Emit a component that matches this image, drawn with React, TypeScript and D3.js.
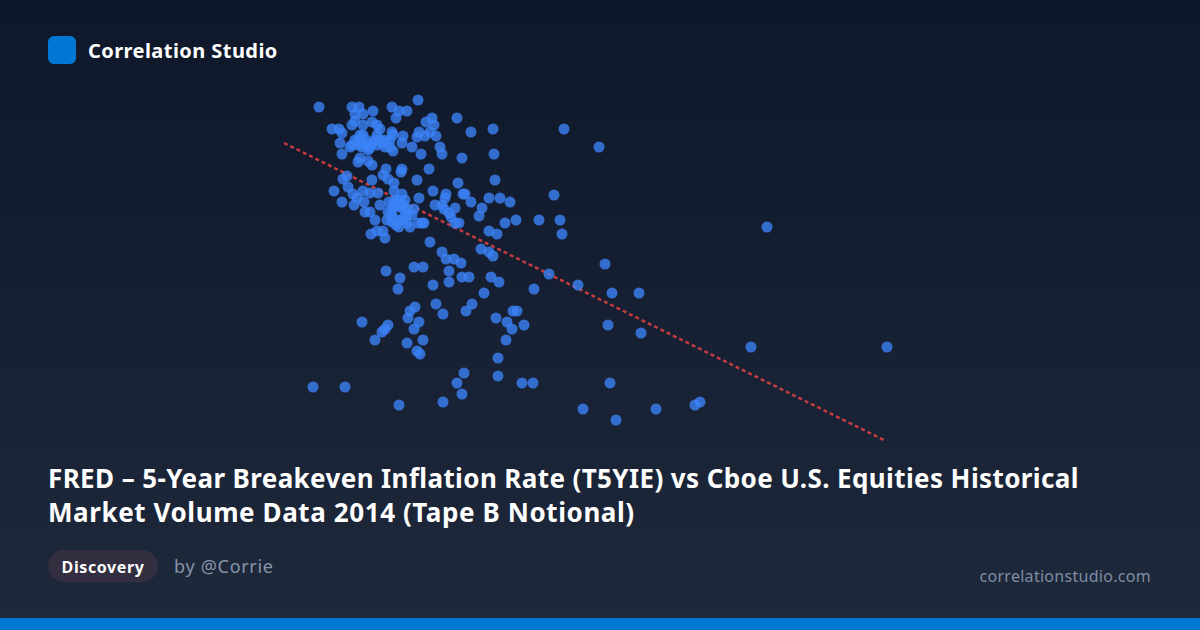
import React from "react";
import * as d3 from "d3";

// 5-year breakeven, basis points
const breakevenBps = [
  139,172,179,212,238,219,227,216,175,183,193,252,246,254,277,291,313,175,172,183,192,197,200,152,159,162,160,162,170,175,183,197,
  182,178,188,188,195,197,202,212,213,223,222,210,213,232,241,260,262,282,314,237,239,245,250,256,180,178,188,192,206,222,221,249,
  167,163,168,154,162,173,177,174,183,190,198,192,184,200,185,190,195,191,197,203,205,203,208,214,237,278,315,214,222,239,253,266,265,283,285,291,309,320,330,255,262,264,275,269,271,275,279,302,299,325,336,309,317,301,309,313,250,262,266,274,281,269,282,289,311,206,234,243,220,
  217,220,223,227,234,209,212,212,207,212,218,219,227,230,227,238,244,242,
  384,419,374,359,380,382,587,425,369,398,432,459,354,428,461,571,707,344,333,337,316,327,332,326,318,318,342,353,430,403,436,476,515,520,133,165,219,263,282,277,284,240,237,227,243,195,202,205,208,182,228,230,235,239,234,263,256,286,292,304,319,253,218,269,
  178,182,186,190,192,200,205,180,172,205,210,
  214,218,221,216,224,225,213,224,216,222,232,208,
];
// Tape B notional, USD bn
const tapeBNotional = [
  33.3,33.3,33.3,33.3,34.0,32.9,32.9,32.2,32.6,32.6,32.9,32.2,31.8,31.5,32.2,30.8,31.1,31.9,31.5,31.5,31.8,31.5,31.1,31.1,31.1,30.7,29.7,28.6,29.3,30.0,30.5,30.5,
  29.7,29.5,29.5,29.0,30.0,29.5,29.7,30.8,30.5,30.4,29.7,29.3,28.9,29.3,28.6,29.3,28.6,28.2,28.6,30.3,30.8,30.4,30.8,30.4,28.2,27.8,27.9,27.5,27.1,27.1,26.8,27.1,
  26.4,26.1,25.3,24.9,23.8,24.6,24.2,23.5,24.9,24.7,24.7,26.0,23.8,23.5,22.8,22.8,22.0,20.6,20.9,20.9,20.2,26.5,26.1,25.7,26.0,25.7,26.0,24.9,24.6,24.2,24.9,24.6,24.2,24.6,24.6,23.8,24.2,24.2,23.8,23.5,23.5,23.1,23.2,22.7,22.3,21.7,21.7,23.2,22.4,21.7,22.0,20.9,20.6,19.1,18.8,18.4,19.8,18.8,18.1,18.1,17.7,16.9,16.3,16.3,16.3,16.9,17.3,17.3,16.2,
  24.0,23.8,23.5,23.1,23.1,23.8,22.8,22.3,22.0,21.8,22.0,21.3,21.7,21.3,22.5,21.7,21.7,21.7,
  31.1,29.3,24.5,22.0,22.0,20.6,21.3,17.6,16.6,15.5,14.7,14.7,15.1,11.5,10.7,9.3,9.3,11.5,12.9,12.9,12.2,11.8,11.1,10.0,8.2,6.4,5.7,5.7,5.7,3.1,2.0,3.1,3.5,3.8,5.3,5.3,3.5,3.8,4.6,5.7,6.7,8.6,8.9,9.7,10.0,10.0,10.8,11.1,11.5,11.8,12.2,12.9,13.3,11.8,11.1,12.6,13.6,12.9,13.6,14.7,15.8,15.5,15.1,15.8,
  30.0,29.3,30.0,29.2,29.7,30.0,30.0,30.5,29.5,29.3,30.0,
  23.7,23.4,23.3,24.0,23.0,24.0,23.3,22.2,21.5,22.0,22.5,22.8,
];
const trendX = [104, 704];
const trendY = [29.7, 0];

const titleLines = [
  "FRED – 5-Year Breakeven Inflation Rate (T5YIE) vs Cboe U.S. Equities Historical",
  "Market Volume Data 2014 (Tape B Notional)",
];
const titleTracking = [0.39, 0.59];

const FONT = "'Noto Sans', sans-serif";

export default function App() {
  const x = d3.scaleLinear().domain([100, 720]).range([280, 900]);
  const y = d3.scaleLinear().domain([0, 34]).range([440, 100]);
  const line = d3
    .line<number>()
    .x((d) => x(d))
    .y((_, i) => y(trendY[i]));

  return (
    <svg
      width={1200}
      height={630}
      viewBox="0 0 1200 630"
      style={{ position: "fixed", left: 0, top: 0, display: "block" }}
      fontFamily={FONT}
    >
      <defs>
        <linearGradient id="bg" x1="0" y1="0" x2="0" y2="1">
          <stop offset="0" stopColor="#0f172a" />
          <stop offset="1" stopColor="#1e293b" />
        </linearGradient>
      </defs>
      <rect width={1200} height={630} fill="url(#bg)" />

      <rect x={48} y={36} width={28} height={28} rx={6} fill="#0078d4" />
      <text x={88} y={57.5} fontSize={20} fontWeight={700} letterSpacing={0.44} fill="#ffffff">
        Correlation Studio
      </text>

      <path
        d={line(trendX) ?? ""}
        fill="none"
        stroke="#ef4444"
        strokeOpacity={0.8}
        strokeWidth={2.5}
        strokeDasharray="4 3"
      />
      <g>
        {breakevenBps.map((d, i) => (
          <circle key={i} cx={x(d)} cy={y(tapeBNotional[i])} r={5.5} fill="#3b82f6" fillOpacity={0.8} />
        ))}
      </g>

      {titleLines.map((t, i) => (
        <text key={i} x={48} y={488 + i * 34} fontSize={26} fontWeight={700} letterSpacing={titleTracking[i]} fill="#ffffff">
          {t}
        </text>
      ))}

      <rect x={48} y={550} width={110} height={32} rx={16} fill="#332e40" />
      <text x={103} y={572.5} fontSize={16} fontWeight={700} letterSpacing={0.6} fill="#ffffff" textAnchor="middle">
        Discovery
      </text>
      <text x={174} y={572.5} fontSize={18} letterSpacing={0.7} fill="#8794a8">
        by @Corrie
      </text>
      <text x={1151} y={581.5} fontSize={16} letterSpacing={0.29} fill="#7f8da3" textAnchor="end">
        correlationstudio.com
      </text>
      <rect x={0} y={618} width={1200} height={12} fill="#0078d4" />
    </svg>
  );
}
